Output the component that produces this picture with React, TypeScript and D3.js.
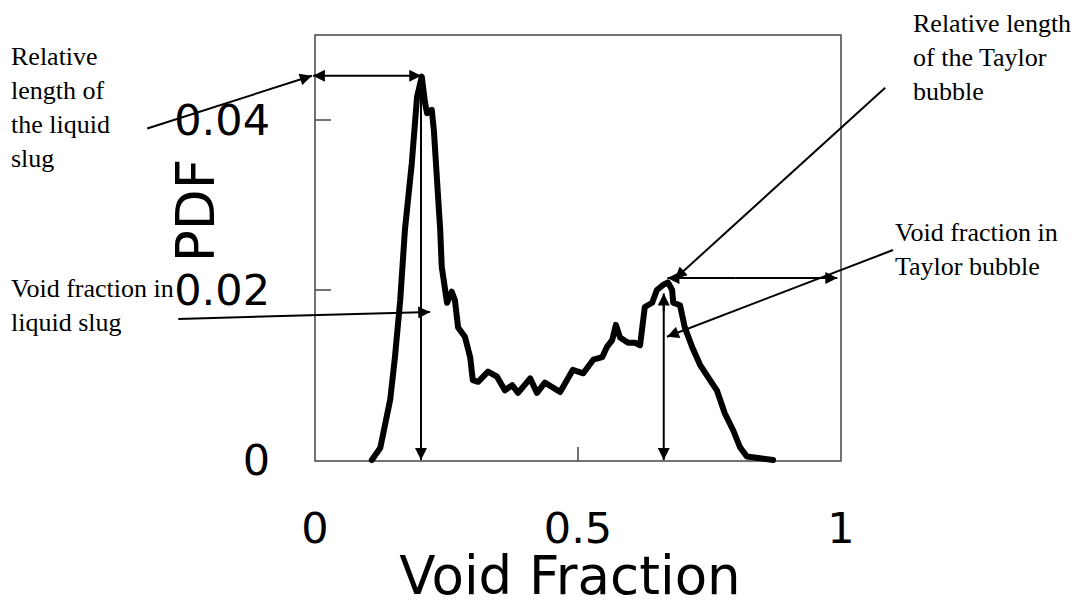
import React, { useEffect, useRef } from "react";
import * as d3 from "d3";

// PDF curve: void fraction (x) vs probability density (y)
const voidFraction = [
    0.108, 0.124, 0.143, 0.152, 0.162, 0.171, 0.184, 0.194, 0.203, 0.209, 0.213, 0.222,
    0.226, 0.232, 0.238, 0.241, 0.251, 0.26, 0.266, 0.272, 0.285, 0.295, 0.3, 0.31,
    0.329, 0.346, 0.361, 0.375, 0.386, 0.409, 0.422, 0.437, 0.466, 0.49, 0.51, 0.529,
    0.546, 0.555, 0.565, 0.572, 0.58, 0.595, 0.608, 0.618, 0.627, 0.641, 0.65, 0.662,
    0.671, 0.679, 0.681, 0.694, 0.703, 0.717, 0.732, 0.751, 0.764, 0.779, 0.795, 0.808,
    0.821, 0.846, 0.871,
];
const pdfValues = [
    0, 0.0014, 0.0071, 0.0121, 0.0188, 0.0271, 0.0349, 0.0427, 0.0451, 0.0421, 0.0408, 0.0412,
    0.0388, 0.0329, 0.0271, 0.0227, 0.0185, 0.0198, 0.0188, 0.0156, 0.0145, 0.0121, 0.0094, 0.0092,
    0.0104, 0.0098, 0.0082, 0.0088, 0.0079, 0.0096, 0.0079, 0.0091, 0.008, 0.0106, 0.0102, 0.0118,
    0.0121, 0.0133, 0.0141, 0.0159, 0.0144, 0.0138, 0.0138, 0.0135, 0.018, 0.0185, 0.02, 0.0206,
    0.0209, 0.02, 0.0185, 0.0182, 0.0156, 0.0133, 0.0112, 0.0094, 0.0082, 0.0055, 0.0035, 0.0015,
    0.0004, 0.0002, 0,
];

const xTicks = [0, 0.5, 1];
const xTickLabels = ["0", "0.5", "1"];
const yTicks = [0, 0.02, 0.04];
const yTickLabels = ["0", "0.02", "0.04"];

// annotation arrows in data units: [x1, y1, x2, y2], head at the end
const arrows = [
    [0.2015, 0.0452, 0.2015, 0],
    [0.2, 0.0452, -0.004, 0.0452],
    [0.2, 0.0452, 0.202, 0.0452],
    [-0.319, 0.039, -0.006, 0.0452],
    [-0.26, 0.0166, 0.219, 0.0174],
    [0.663, 0.0192, 0.663, 0],
    [0.663, 0.0175, 0.663, 0.0196],
    [0.8, 0.0214, 0.67, 0.0214],
    [0.8, 0.0214, 0.993, 0.0214],
    [1.084, 0.0438, 0.684, 0.0213],
    [1.099, 0.0247, 0.669, 0.0145],
];

const leftNotes = [
    { lines: ["Relative", "length of", "the liquid", "slug"], x: 11, y: 65 },
    { lines: ["Void fraction in", "liquid slug"], x: 11, y: 297 },
];
const rightNotes = [
    { lines: ["Relative length", "of the Taylor", "bubble"], x: 913, y: 32 },
    { lines: ["Void fraction in", "Taylor bubble"], x: 895, y: 241 },
];

const App: React.FC = () => {
    const svgRef = useRef<SVGSVGElement>(null);
    const width = 1082;
    const height = 600;

    useEffect(() => {
        if (!svgRef.current) return;
        const svg = d3.select(svgRef.current);
        svg.selectAll("*").remove();

        const left = 315, right = 841, top = 35, bottom = 460;

        const xScale = d3.scaleLinear().domain([0, 1]).range([left, right]);
        const yScale = d3.scaleLinear().domain([0, 0.05]).range([bottom, top]);

        // arrowhead marker
        svg.append("defs")
            .append("marker")
            .attr("id", "head")
            .attr("viewBox", "0 0 10 10")
            .attr("refX", 10)
            .attr("refY", 5)
            .attr("markerUnits", "userSpaceOnUse")
            .attr("markerWidth", 15)
            .attr("markerHeight", 12)
            .attr("orient", "auto")
            .append("path")
            .attr("d", "M0,0 L10,5 L0,10 Z")
            .attr("fill", "#000");

        // frame
        svg.append("rect")
            .attr("x", left)
            .attr("y", top)
            .attr("width", right - left)
            .attr("height", bottom - top + 1)
            .attr("fill", "none")
            .attr("stroke", "#444")
            .attr("stroke-width", 1.5);

        // inward ticks
        svg.selectAll(".ytick")
            .data(yTicks.filter(d => d > 0))
            .enter()
            .append("line")
            .attr("x1", left)
            .attr("x2", left + 16)
            .attr("y1", d => yScale(d))
            .attr("y2", d => yScale(d))
            .attr("stroke", "#444")
            .attr("stroke-width", 1.5);

        svg.selectAll(".xtick")
            .data(xTicks.filter(d => d > 0 && d < 1))
            .enter()
            .append("line")
            .attr("x1", d => xScale(d))
            .attr("x2", d => xScale(d))
            .attr("y1", bottom + 1)
            .attr("y2", bottom - 13)
            .attr("stroke", "#444")
            .attr("stroke-width", 1.5);

        // annotation text
        const serif = "'Liberation Serif', 'Times New Roman', serif";
        [...leftNotes, ...rightNotes].forEach(note => {
            note.lines.forEach((line, i) => {
                svg.append("text")
                    .attr("x", note.x)
                    .attr("y", note.y + i * 34)
                    .attr("font-family", serif)
                    .attr("font-size", 26)
                    .attr("fill", "#000")
                    .text(line);
            });
        });

        // tick labels
        const sans = "'DejaVu Sans', Verdana, sans-serif";
        svg.selectAll(".ylab")
            .data(yTicks)
            .enter()
            .append("text")
            .attr("x", 270)
            .attr("y", d => yScale(d) + 15)
            .attr("text-anchor", "end")
            .attr("font-family", sans)
            .attr("font-size", 43)
            .attr("fill", "#000")
            .text((d, i) => yTickLabels[i]);

        svg.selectAll(".xlab")
            .data(xTicks)
            .enter()
            .append("text")
            .attr("x", d => xScale(d))
            .attr("y", 543)
            .attr("text-anchor", "middle")
            .attr("font-family", sans)
            .attr("font-size", 43)
            .attr("fill", "#000")
            .text((d, i) => xTickLabels[i]);

        // axis titles
        svg.append("text")
            .attr("x", (left + right) / 2 - 8)
            .attr("y", 594)
            .attr("text-anchor", "middle")
            .attr("font-family", sans)
            .attr("font-size", 53)
            .attr("fill", "#000")
            .text("Void Fraction");

        svg.append("text")
            .attr("transform", `translate(214,${(top + bottom) / 2 - 37}) rotate(-90)`)
            .attr("text-anchor", "middle")
            .attr("font-family", sans)
            .attr("font-size", 53)
            .attr("fill", "#000")
            .text("PDF");

        // the PDF curve
        const line = d3
            .line<number>()
            .x((d, i) => xScale(voidFraction[i]))
            .y(d => yScale(d));

        svg.append("path")
            .datum(pdfValues)
            .attr("fill", "none")
            .attr("stroke", "#000")
            .attr("stroke-width", 6)
            .attr("stroke-linejoin", "round")
            .attr("stroke-linecap", "round")
            .attr("d", line);

        // arrows
        svg.selectAll(".arrow")
            .data(arrows)
            .enter()
            .append("line")
            .attr("x1", d => xScale(d[0]))
            .attr("y1", d => yScale(d[1]))
            .attr("x2", d => xScale(d[2]))
            .attr("y2", d => yScale(d[3]))
            .attr("stroke", "#000")
            .attr("stroke-width", 2)
            .attr("marker-end", "url(#head)");
    }, []);

    return (
        <svg
            ref={svgRef}
            width={width}
            height={height}
            style={{ position: "absolute", left: 0, top: 0, background: "#fff" }}
        ></svg>
    );
};

export default App;
